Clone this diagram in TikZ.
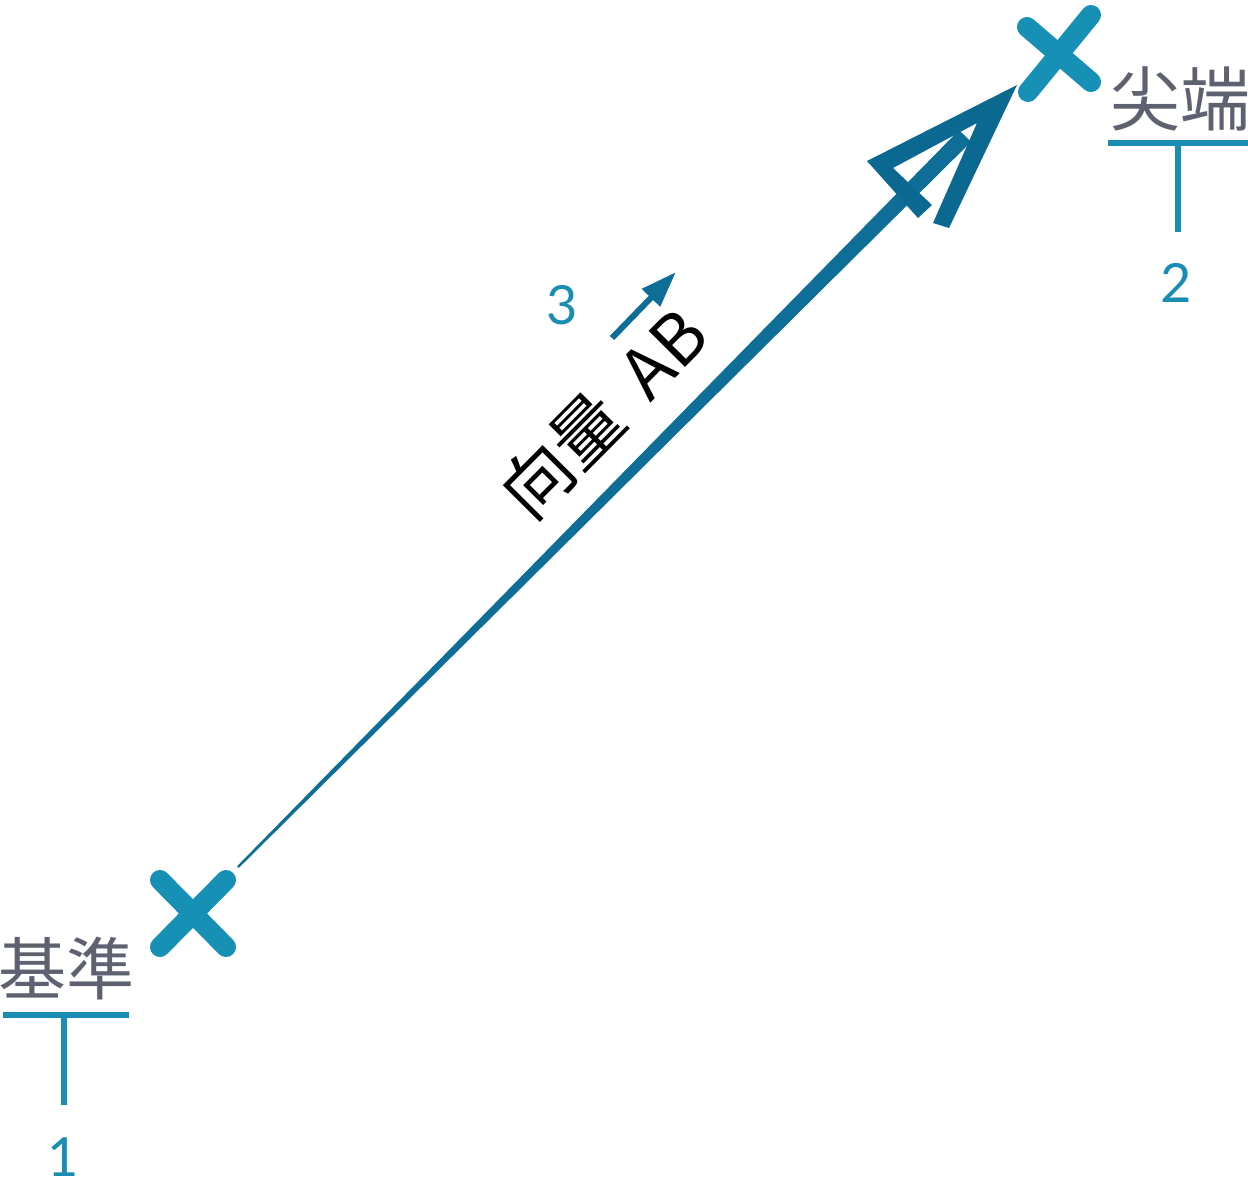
\documentclass[tikz,border=0pt]{standalone}
\usepackage{fontspec}
\newfontfamily\jp{Noto Sans CJK JP}
\newfontfamily\lat{Lato}
\usetikzlibrary{calc,arrows.meta}
\definecolor{xcol}{HTML}{1690B5}
\definecolor{shaftc}{HTML}{0E6E98}
\definecolor{headc}{HTML}{0B6890}
\definecolor{numc}{HTML}{1A8DB2}
\definecolor{grayt}{HTML}{5D6170}
\tikzset{
  xmark/.style={draw=xcol, line width=10pt, line cap=round},
  numlab/.style={inner sep=0pt, text=numc, font=\lat\fontsize{27pt}{30pt}\selectfont},
  cjklab/.style={inner sep=0pt, text=grayt, font=\jp\fontsize{34pt}{38pt}\selectfont},
  tickline/.style={draw=numc, line width=3pt},
  headfill/.style={fill=headc},
}
\begin{document}
\begin{tikzpicture}[x=0.5pt,y=-0.5pt]
\useasboundingbox (0,0) rectangle (1248,1177);
% X marks
\coordinate (A) at (193,913);
\coordinate (B) at (1059,54);
\draw[xmark] ([shift={(-33,-33)}]A) -- ([shift={(33,34)}]A);
\draw[xmark] ([shift={(33,-33)}]A) -- ([shift={(-33,34)}]A);
\draw[xmark] ([shift={(-32,-27)}]B) -- ([shift={(32,28)}]B);
\draw[xmark] ([shift={(32,-39)}]B) -- ([shift={(-31,38)}]B);
% tapered shaft
\coordinate (S) at (238,867);
\coordinate (E) at (965,136);
\fill[shaftc] ($(S)!0.6pt!90:(E)$) -- ($(S)!0.6pt!-90:(E)$) -- ($(E)!4.2pt!90:(S)$) -- ($(E)!4.2pt!-90:(S)$) -- cycle;
% arrowhead
\coordinate (T) at (1017,85);
\coordinate (L) at (867,161);
\coordinate (H1) at (918,218);
\coordinate (H2) at (932,205);
\coordinate (Li) at (893,168);
\coordinate (J) at (977,123);
\coordinate (R1) at (933,223);
\coordinate (R2) at (949,228);
\fill[headfill] (T) -- (L) -- (H1) -- (H2) -- (Li) -- (J) -- (R1) -- (R2) -- cycle;
% label along vector
\node[inner sep=0pt, rotate=45.2, font=\jp\fontsize{35pt}{38pt}\selectfont] (vlab) at (603,413) {向量\hspace{0.42em}AB};
% small arrow and number 3
\coordinate (sa1) at (612,338);
\coordinate (sa2) at (676,272);
\draw[draw=shaftc, line width=3pt, -{Triangle[length=18pt,width=12pt]}] (sa1) -- (sa2);
\node[numlab] (n3) at (562,305) {3};
% tip label
\node[cjklab, font=\jp\fontsize{35pt}{38pt}\selectfont] (tipl) at (1180,99) {尖端};
\coordinate (tb1) at (1108,143);
\coordinate (tb2) at (1248,143);
\coordinate (tv1) at (1178,143);
\coordinate (tv2) at (1178,232);
\draw[tickline] (tb1) -- (tb2);
\draw[tickline, line width=2.6pt] (tv1) -- (tv2);
\node[numlab] (n2) at (1176,283) {2};
% base label
\node[cjklab] (basel) at (66,969) {基準};
\coordinate (bb1) at (3,1015);
\coordinate (bb2) at (129,1015);
\coordinate (bv1) at (64,1015);
\coordinate (bv2) at (64,1105);
\draw[tickline] (bb1) -- (bb2);
\draw[tickline, line width=2.6pt] (bv1) -- (bv2);
\node[numlab] (n1) at (63,1157) {1};
\end{tikzpicture}
\end{document}
